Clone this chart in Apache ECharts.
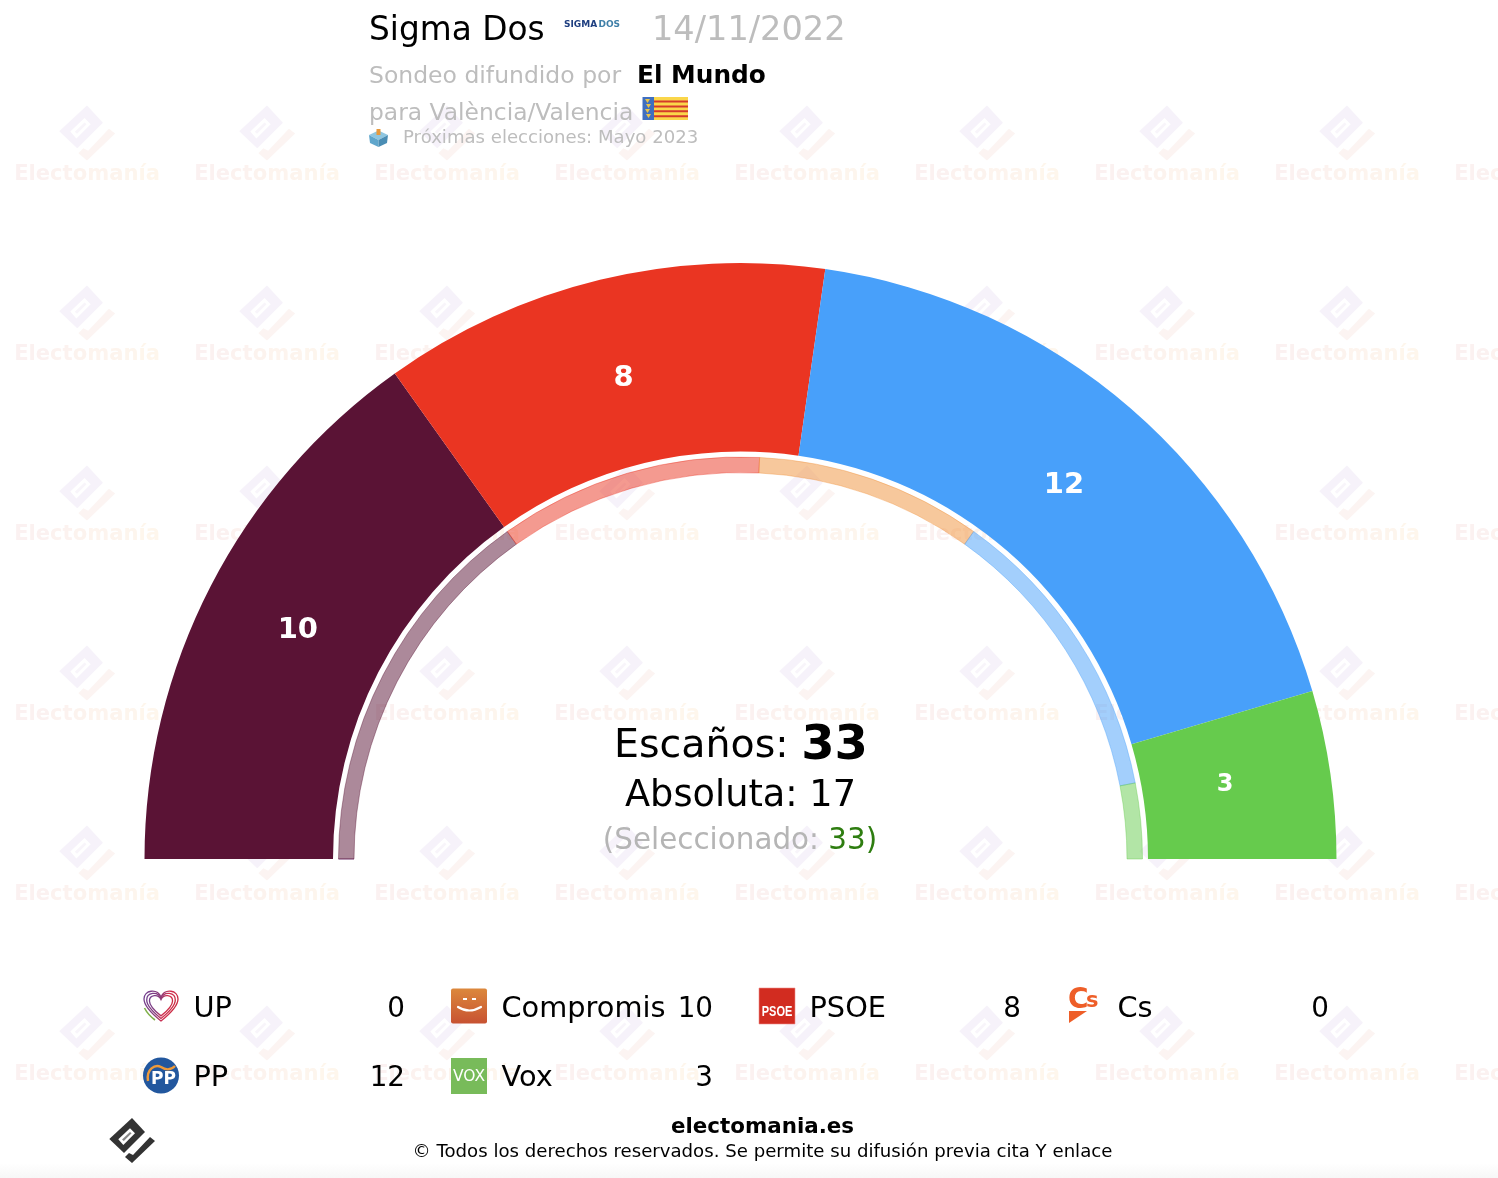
<!DOCTYPE html>
<html><head><meta charset="utf-8">
<style>html,body{margin:0;padding:0;background:#fff}#c{width:1498px;height:1178px}</style>
<script src="https://cdn.jsdelivr.net/npm/echarts@6/dist/echarts.min.js"></script>
</head><body><div id="c"></div>
<script>
const parties=['UP','Compromis','PSOE','Cs','PP','Vox'];
const seats=[0,10,8,0,12,3];
const previousSeats=[0,10,7,6,8,2];
const colors=['#7B3F8C','#5A1335','#EA3522','#F0923A','#48A0FA','#66CB4D'];
const totalSeats=33, majority=17, selected=33;
const FF='"DejaVu Sans"';
const chart=echarts.init(document.getElementById('c'),null,{renderer:'canvas'});
const g=[];
let pid=0;
function pathEl(d,z,style){
  const name='customPath'+(pid++);
  echarts.graphic.registerShape(name,echarts.graphic.extendPath(d,{}));
  return {type:name,z,silent:true,style};
}
const T=(x,y,text,size,fill,o={})=>({type:'text',z:o.z??10,silent:true,style:{x,y,text,fill,fontFamily:o.ff||FF,fontSize:size,fontWeight:o.w||'normal',align:o.a||'left',verticalAlign:'middle',opacity:o.op??1}});
const grad=(x1,y1,x2,y2,a,b)=>new echarts.graphic.LinearGradient(x1,y1,x2,y2,[{offset:0,color:a},{offset:1,color:b}]);
function glyph(cx,cy,s,f1,f2,z,hole,slot){
  const P=(pts,f)=>({type:'polygon',z,silent:true,shape:{points:pts.map(p=>[cx+p[0]*s,cy+p[1]*s])},style:{fill:f}});
  return [
    P([[0,-22.5],[-22.7,-1.5],[-8,12.5],[13,-8.5]],f1),
    P([[-13.7,-1.2],[-2,-12.2],[3,-7.2],[-8.7,4.5]],hole),
    P([[-10,-1],[-2,-8.6],[-.4,-7.2],[-8.2,.6]],slot),
    P([[-7,16.5],[-3,12.5],[1,14.5],[18,-3.5],[23,.5],[0,22.5]],f2)
  ];
}
// watermark
const wmLetters='Electomanía'.split('');
const wmColors=['#FBF1F1','#FBF1F0','#FBF1F0','#FCF2EF','#FCF2EF','#FCF3EE','#FDF4EE','#FDF4ED','#FDF5ED','#FEF6EC','#FEF6EC'];
const wmRich={},wmText=wmLetters.map((l,i)=>{wmRich['l'+i]={fontFamily:FF,fontSize:21.1,fontWeight:'bold',fill:wmColors[i]};return '{l'+i+'|'+l+'}';}).join('');
for(let r=0;r<7;r++)for(let c=0;c<9;c++){
  const x=87+180*c,y=133+180*r-180;
  if(y>-60) g.push(...glyph(x,y,1.22,'#F6F2FA','#FCF4F2',0,'#fff','#F8F5FA'));
  g.push({type:'text',z:0,silent:true,style:{x,y:y+42,align:'center',verticalAlign:'middle',text:wmText,rich:wmRich}});
}
g.push({type:'rect',z:1,silent:true,shape:{x:0,y:1163,width:1498,height:15},style:{fill:grad(0,0,0,1,'#FFFFFF','#F7F7F7')}});
// header
g.push(T(369,31,'Sigma Dos',32.8,'#000'));
g.push(T(564,25,'SIGMA',9,'#1F3F80',{w:'bold'}),T(598.5,25,'DOS',9,'#3F7FA8',{w:'bold'}));
g.push(T(652,31,'14/11/2022',33.6,'#BDBDBD'));
g.push(T(369,76.5,'Sondeo difundido por',23.5,'#BDBDBD'));
g.push(T(637,76.5,'El Mundo',24.8,'#000',{w:'bold'}));
g.push(T(369,113.5,'para València/Valencia',23.4,'#BDBDBD'));
g.push(T(403,138,'Próximas elecciones: Mayo 2023',18.1,'#BDBDBD'));
// flag
g.push({type:'rect',z:10,shape:{x:654,y:97,width:34,height:23},style:{fill:'#FAD64A'}});
for(let i=0;i<4;i++)g.push({type:'rect',z:11,shape:{x:654,y:100.5+i*4.9,width:34,height:2},style:{fill:'#D5392B'}});
g.push({type:'rect',z:12,shape:{x:642.5,y:97,width:11.5,height:23},style:{fill:'#3F6FC0'}});
for(let i=0;i<4;i++)g.push({type:'polygon',z:13,shape:{points:[[645+i%2,99+i*5],[650+i%2,99+i*5],[647.5+i%2,103+i*5]]},style:{fill:'#E8C34A'}});
// ballot box
g.push({type:'rect',z:11,shape:{x:376.5,y:129,width:4,height:6},style:{fill:'#E89A3C'}});
g.push({type:'polygon',z:10,shape:{points:[[369,135],[378.5,130.5],[388,135],[378.5,140]]},style:{fill:'#8FC6E0'}});
g.push({type:'polygon',z:10,shape:{points:[[369,135],[378.5,140],[378.5,147],[370,143]]},style:{fill:'#5FA6CC'}});
g.push({type:'polygon',z:10,shape:{points:[[388,135],[378.5,140],[378.5,147],[387,143]]},style:{fill:'#4A8DB4'}});
// centre text
g.push({type:'text',z:10,silent:true,style:{x:741,y:747,align:'center',verticalAlign:'middle',text:'{a|Escaños: }{b|'+totalSeats+'}',rich:{a:{fontFamily:FF,fontSize:39.5,fill:'#000'},b:{fontFamily:FF,fontSize:48,fontWeight:'bold',fill:'#000'}}}});
g.push(T(740.5,796,'Absoluta: '+majority,36.7,'#000',{a:'center'}));
g.push({type:'text',z:10,silent:true,style:{x:740,y:841,align:'center',verticalAlign:'middle',text:'{a|(Seleccionado: }{b|'+selected+'}{c|)}',rich:{a:{fontFamily:FF,fontSize:29.4,fill:'#B5B5B5'},b:{fontFamily:FF,fontSize:29.4,fill:'#2E7D10'},c:{fontFamily:FF,fontSize:29.4,fill:'#2E7D10'}}}});
// legend
const LX=[143,451,759,1067], LY=[1009.5,1079];
parties.forEach((p,i)=>{
  const col=i%4,row=Math.floor(i/4),x=LX[col],y=LY[row];
  g.push(T(x+50.5,y,p,28.8,'#000'));
  g.push(T(x+262,y,String(seats[i]),27.8,'#000',{a:'right'}));
});
// icons
const heart=(s)=>{const x=161,y=1005;return `M${x} ${y+16*s}C${x-10*s} ${y+8*s} ${x-17*s} ${y+1*s} ${x-17*s} ${y-6*s}C${x-17*s} ${y-15*s} ${x-4*s} ${y-17*s} ${x} ${y-8*s}C${x+4*s} ${y-17*s} ${x+17*s} ${y-15*s} ${x+17*s} ${y-6*s}C${x+17*s} ${y+1*s} ${x+10*s} ${y+8*s} ${x} ${y+16*s}Z`;};
[1,.84,.68].forEach(s=>g.push(pathEl(heart(s),10,{fill:null,lineWidth:1.3,stroke:new echarts.graphic.LinearGradient(0,0,1,.3,[{offset:0,color:'#6B3F94'},{offset:.5,color:'#8A3A78'},{offset:.7,color:'#D03050'},{offset:1,color:'#C8283C'}])})));
g.push(pathEl('M144.5 1008C147 1013 151 1017 155 1020',11,{fill:null,lineWidth:1.6,stroke:'#7FB04A'}));
// Compromis
g.push({type:'rect',z:10,shape:{x:451,y:988.5,width:36,height:35,r:2},style:{fill:grad(0,0,0,1,'#DC883C','#C75232')}});
g.push(pathEl('M458 1007Q469 1014 481 1007',11,{fill:null,stroke:'#fff',lineWidth:2.2,lineCap:'round'}));
g.push({type:'rect',z:11,shape:{x:463,y:998,width:4,height:2},style:{fill:'#fff'}},{type:'rect',z:11,shape:{x:472,y:998,width:4,height:2},style:{fill:'#fff'}});
// PSOE
g.push({type:'rect',z:10,shape:{x:759,y:988,width:36,height:36},style:{fill:'#D22C20',stroke:'#EE8F8A',lineWidth:.6}});
g.push({type:'text',z:11,silent:true,x:777,y:1011.5,scaleX:.76,style:{x:0,y:0,text:'PSOE',fill:'#fff',fontFamily:'"Liberation Sans"',fontSize:14.5,fontWeight:'bold',align:'center',verticalAlign:'middle'}});
// Cs
g.push(T(1068,1001,'C',28,'#EE5E28',{w:'bold'}),T(1086,1002,'s',21,'#EE5E28',{w:'bold'}));
g.push({type:'polygon',z:10,shape:{points:[[1069,1011],[1087,1011],[1069,1023]]},style:{fill:'#EE5E28'}});
// PP
g.push({type:'circle',z:10,shape:{cx:161,cy:1075.5,r:18},style:{fill:'#22579E'}});
g.push(pathEl('M148 1081C146 1069 155 1064 161 1067C167 1071 172 1069 175 1066',11,{fill:null,stroke:'#EE9A3A',lineWidth:2.4}));
g.push(T(163.5,1080,'PP',17,'#fff',{a:'center',w:'bold'}));
// Vox
g.push({type:'rect',z:10,shape:{x:451,y:1058,width:36,height:36},style:{fill:'#78BB5A'}});
g.push(T(469,1076.5,'VOX',15.5,'#fff',{a:'center'}));
// footer
g.push(T(762.5,1127,'electomania.es',21.4,'#000',{a:'center',w:'bold'}));
g.push(T(762.5,1152,'© Todos los derechos reservados. Se permite su difusión previa cita Y enlace',18.15,'#000',{a:'center'}));
g.push(...glyph(132,1140.5,1,'#333','#333',10,'#fff','#888'));

const labelOffsets=[[0,0],[6,3],[2,10],[0,0],[-7,8],[-15,-2]];
const labelSizes=[29,29,29,29,29,24];
const opt={
  animation:false,backgroundColor:'#fff',
  graphic:{elements:g},
  series:[
    {type:'pie',z:5,center:[740.5,859],radius:[407.5,596],startAngle:180,endAngle:0,clockwise:true,silent:true,minAngle:0,
     labelLine:{show:false},
     data:parties.map((n,i)=>({name:n,value:seats[i],itemStyle:{color:colors[i]},
       label:{show:seats[i]>0,position:'inside',formatter:String(seats[i]),color:'#fff',fontFamily:FF,fontWeight:'bold',fontSize:labelSizes[i],offset:labelOffsets[i]}}))},
    {type:'pie',z:5,center:[740.5,859],radius:[386.5,402],startAngle:180,endAngle:0,clockwise:true,silent:true,
     label:{show:false},labelLine:{show:false},
     data:parties.map((n,i)=>({name:n,value:previousSeats[i],itemStyle:{color:colors[i],opacity:.5,borderColor:colors[i],borderWidth:.8}}))}
  ]
};
chart.setOption(opt);
</script></body></html>
